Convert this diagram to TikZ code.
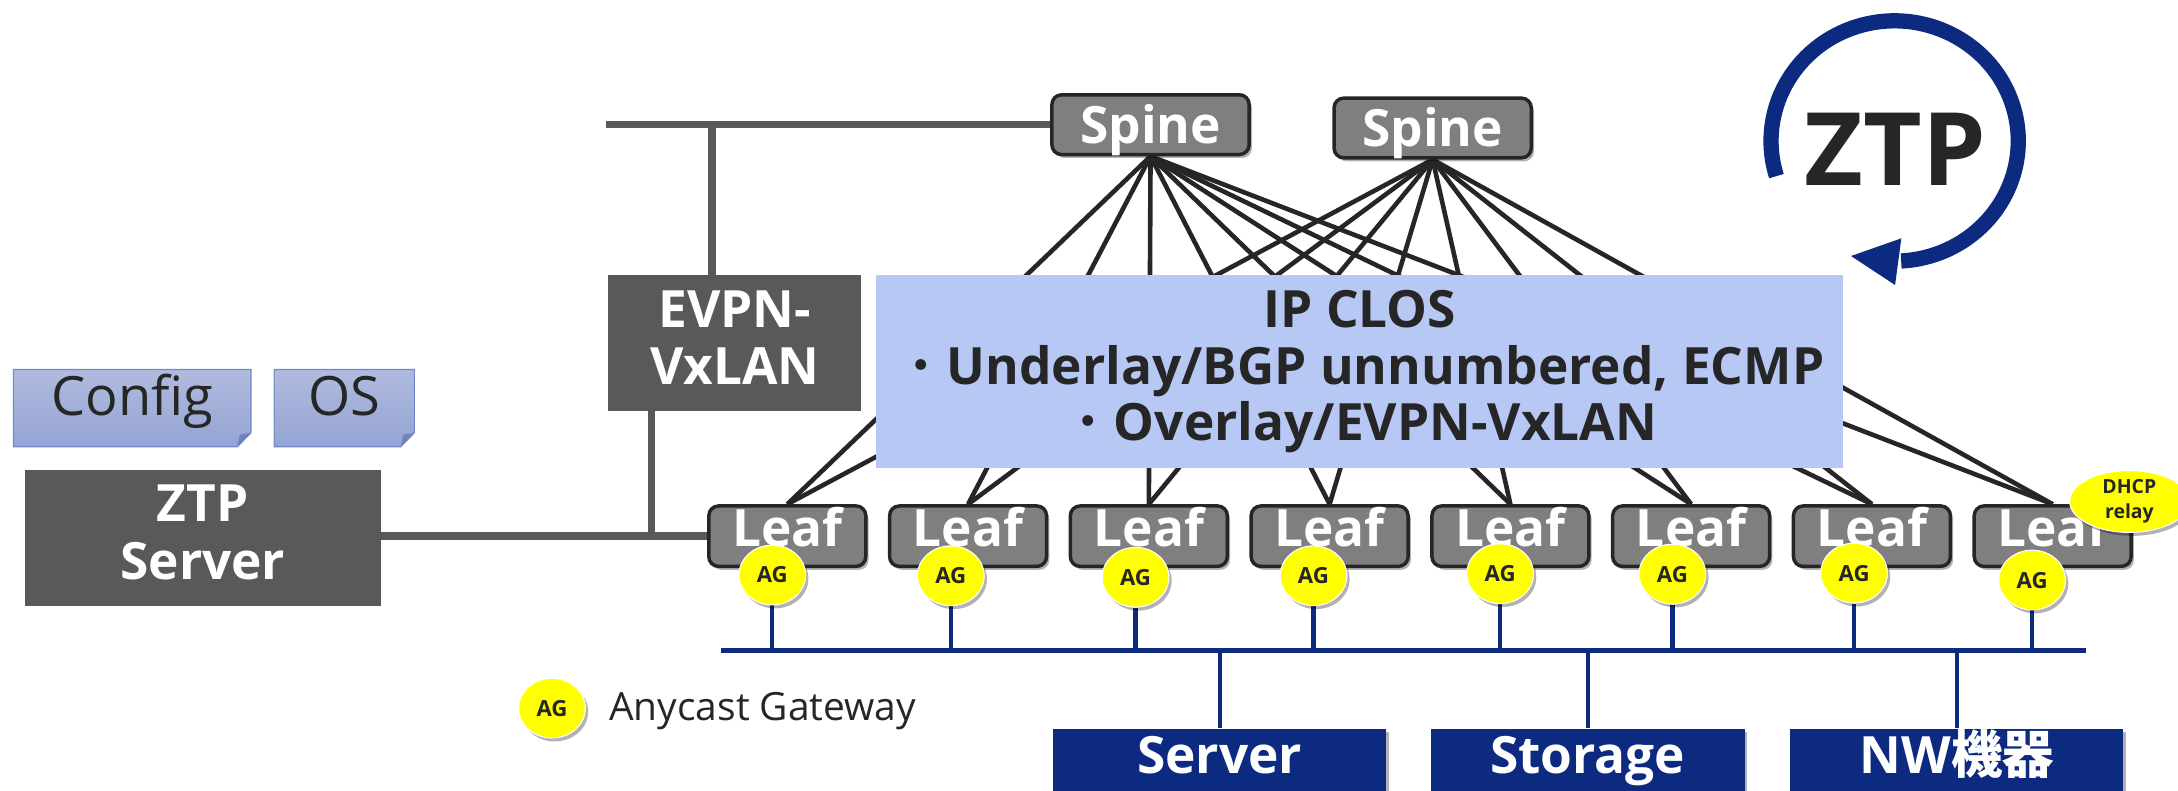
\documentclass[tikz,border=0pt]{standalone}
\usepackage{fontspec}
\setmainfont{Open Sans}
\newfontfamily\cjk{Noto Sans CJK JP}
\usetikzlibrary{shadows,backgrounds,calc,shapes.geometric}

\definecolor{boxgray}{HTML}{595959}
\definecolor{nodegray}{HTML}{7F7F7F}
\definecolor{ink}{HTML}{262626}
\definecolor{closfill}{HTML}{B7C8F5}
\definecolor{navy}{HTML}{0C2A80}
\definecolor{doctop}{HTML}{B0BBDE}
\definecolor{docbot}{HTML}{94A3D4}
\definecolor{docline}{HTML}{7088C8}
\definecolor{docfold}{HTML}{6E83C2}
\definecolor{agyellow}{HTML}{FFFF00}

\newcommand\fsz[2]{\fontsize{#1}{#2}\selectfont}
% invisible rule that deepens the last line, lifting two-line labels in their boxes
\newcommand\lowpad[1]{\rule[-#1]{0pt}{#1}}
\newcommand\middot{{\cjk\mdseries ・}}

\begin{document}
\begin{tikzpicture}[x=1pt,y=-1pt,
  softshadow/.style={drop shadow={shadow xshift=2pt,shadow yshift=-2.5pt,opacity=0.3,fill=black}},
  darkbox/.style={fill=boxgray,text=white,inner sep=0pt,align=center,font=\bfseries\fsz{37}{41.5}},
  netbox/.style={draw=ink,line width=2.5pt,fill=nodegray,rounded corners=7pt,text=white,
    inner sep=0pt,font=\bfseries\fsz{37}{41.5},softshadow},
  spinebox/.style={netbox,minimum width=142pt,minimum height=43pt,text height=28pt,text depth=1.4pt},
  leafbox/.style={netbox,minimum width=113pt,minimum height=43.5pt,text height=28pt,text depth=12.8pt},
  closbox/.style={fill=closfill,minimum width=696pt,minimum height=139pt,inner sep=0pt,
    align=center,text=ink,font=\bfseries\fsz{37}{41}},
  agdot/.style={ellipse,fill=agyellow,draw=white,line width=0.8pt,minimum width=48pt,
    minimum height=43pt,inner sep=0pt,text=ink,font=\bfseries\fsz{16}{18},softshadow},
  dhcpdot/.style={ellipse,fill=agyellow,draw=white,line width=0.8pt,minimum width=86pt,
    minimum height=34pt,inner sep=0pt,align=center,text=ink,font=\bfseries\fsz{14}{18},softshadow},
  sinkbox/.style={fill=navy,text=white,minimum height=50.5pt,inner sep=0pt,text height=27pt,
    text depth=13.3pt,font=\bfseries\fsz{37}{41.5},softshadow},
  docshape/.style={draw=docline,line width=0.8pt,top color=doctop,bottom color=docbot},
  doctext/.style={anchor=base,inner sep=0pt,text=ink,font=\fsz{39}{44}},
  wire/.style={draw=boxgray,line width=5.3pt},
  mesh/.style={draw=ink,line width=3.3pt},
  navyline/.style={draw=navy,line width=3pt}
]
\useasboundingbox (0,0) rectangle (1568,569);
\clip (0,0) rectangle (1568,569);

% configuration files handed out by the ZTP server
\path[docshape] (9.6,266) -- (180.7,266) -- (180.7,311.6) -- (170.9,321.6) -- (9.6,321.6) -- cycle;
\fill[docfold] (180.7,311.6) -- (170.9,321.6) -- (172.6,313) -- cycle;
\node[doctext] (config) at (95.2,299) {Config};
\path[docshape] (197.3,266) -- (298.3,266) -- (298.3,311.6) -- (288.5,321.6) -- (197.3,321.6) -- cycle;
\fill[docfold] (298.3,311.6) -- (288.5,321.6) -- (290.2,313) -- cycle;
\node[doctext] (os) at (247.8,299) {OS};

% servers and fabric boxes
\node[darkbox,minimum width=256pt,minimum height=97.6pt] (ztp) at (146,387.2) {ZTP\\Server\lowpad{8pt}};
\node[darkbox,minimum width=182pt,minimum height=98pt] (evpn) at (529,247) {EVPN-\\VxLAN\lowpad{8pt}};
\node[closbox] (clos) at (979,267.5)
  {IP CLOS\\\middot Underlay/BGP unnumbered, ECMP\\\middot Overlay/EVPN-VxLAN};

\node[spinebox] (spine1) at (828.3,89.75) {Spine};
\node[spinebox] (spine2) at (1031.4,92.15) {Spine};

\foreach \i in {1,...,8}
  \node[leafbox] (leaf\i) at ({566.8+130.14*(\i-1)},386) {Leaf};

\foreach \i/\x/\y in {1/556/414,2/684.5/414.5,3/817.5/415.6,4/945.6/414.5,
                      5/1080/413,6/1204/413.3,7/1334.8/412.6,8/1463/417.6}
  \node[agdot] (ag\i) at (\x,\y) {AG};

\node[dhcpdot] (dhcp) at (1533,361) {DHCP\\relay};

\node[sinkbox,minimum width=240pt] (server) at (878,549.75) {Server};
\node[sinkbox,minimum width=226pt] (storage) at (1143,549.75) {Storage};
\node[sinkbox,minimum width=239.5pt] (nw) at (1408.75,549.75) {NW{\cjk 機器}};

% legend
\node[agdot] (agkey) at (397.4,509.8) {AG};
\node[anchor=base west,inner sep=0pt,text=ink,font=\fsz{28}{32}] (agtext) at (438.5,519) {Anycast Gateway};

% ZTP cycle mark
\node[anchor=base,inner sep=0pt,text=ink,font=\bfseries\fsz{73}{80}] (ztplabel) at (1364.5,133.2) {ZTP};
\draw[navy,line width=11pt] (1278.9,126.8) arc[start angle=163,end angle=447,x radius=89,y radius=86.5];
\fill[navy] (1332.6,184.3) -- (1368.8,171.6) -- (1364.3,205.2) -- cycle;

% wiring
\coordinate (wireL) at (436,89.75);
\coordinate (tapTop) at (512.6,89.75);
\coordinate (tapLow) at (469,386);
\coordinate (busL) at (519,468.3);
\coordinate (busR) at (1502,468.3);

\begin{scope}[on background layer]
  \draw[wire] (wireL) -- (spine1.west);
  \draw[wire] (tapTop) -- (tapTop |- evpn.north);
  \draw[wire] (ztp.east |- leaf1.west) -- (leaf1.west);
  \draw[wire] (tapLow |- evpn.south) -- (tapLow);
  \foreach \i in {1,...,8} {
    \draw[mesh] (spine1.south) -- (leaf\i.north);
    \draw[mesh] (spine2.south) -- (leaf\i.north);
  }
  \draw[navyline,line width=4pt] (busL) -- (busR);
  \foreach \i in {1,...,8}
    \draw[navyline] (ag\i) -- (ag\i |- busL);
  \draw[navyline] (server.north) -- (server.north |- busL);
  \draw[navyline] (storage.north) -- (storage.north |- busL);
  \draw[navyline] (nw.north) -- (nw.north |- busL);
\end{scope}
\end{tikzpicture}
\end{document}
